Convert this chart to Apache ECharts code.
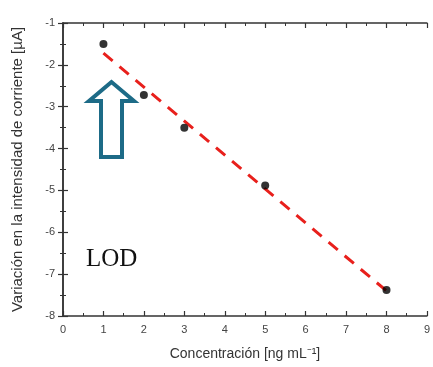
<!DOCTYPE html>
<html><head><meta charset="utf-8">
<script src="https://cdn.jsdelivr.net/npm/echarts@6/dist/echarts.min.js"></script>
<style>html,body{margin:0;padding:0;background:#fff}#c{width:433px;height:367px}</style>
</head><body><div id="c"></div>
<script>
const concentration = [1, 2, 3, 5, 8];
const currentChange = [-1.5, -2.72, -3.5, -4.88, -7.38];
const fitX = [1, 8];
const fitY = [-1.72, -7.40];
const xTicks = [0, 1, 2, 3, 4, 5, 6, 7, 8, 9];
const yTicks = [-8, -7, -6, -5, -4, -3, -2, -1];

const chart = echarts.init(document.getElementById('c'));
const axisCommon = {
  axisLine: {show: true, lineStyle: {color: '#333', width: 1.5}},
  axisTick: {show: true, inside: true, length: 5, lineStyle: {color: '#333', width: 1.2}},
  minorTick: {show: true, splitNumber: 2, length: 3, lineStyle: {color: '#333', width: 1}},
  splitLine: {show: false}
};
chart.setOption({
  animation: false,
  grid: {left: 63, top: 23, right: 3, bottom: 51},
  xAxis: [
    Object.assign({
      type: 'value', min: xTicks[0], max: xTicks[xTicks.length - 1], interval: 1,
      name: 'Concentración [ng mL⁻¹]', nameLocation: 'middle', nameGap: 31,
      nameTextStyle: {fontFamily: 'Liberation Sans', fontSize: 14, color: '#333'},
      axisLabel: {fontFamily: 'Liberation Sans', fontSize: 11, color: '#444', margin: 8}
    }, axisCommon),
    Object.assign({
      type: 'value', position: 'top', min: xTicks[0], max: xTicks[xTicks.length - 1], interval: 1,
      axisLabel: {show: false}
    }, axisCommon)
  ],
  yAxis: [
    Object.assign({
      type: 'value', min: yTicks[0], max: yTicks[yTicks.length - 1], interval: 1,
      name: 'Variación en la intensidad de corriente [µA]', nameLocation: 'middle', nameGap: 38,
      nameTextStyle: {fontFamily: 'Liberation Sans', fontSize: 15, color: '#333'},
      axisLabel: {fontFamily: 'Liberation Sans', fontSize: 11, color: '#444', margin: 8}
    }, axisCommon),
    Object.assign({
      type: 'value', position: 'right', min: yTicks[0], max: yTicks[yTicks.length - 1], interval: 1,
      axisLabel: {show: false}
    }, axisCommon)
  ],
  series: [
    {
      type: 'line', data: fitX.map((x, i) => [x, fitY[i]]), symbol: 'none',
      lineStyle: {color: '#e8201c', width: 3, type: [12, 9]}, z: 2
    },
    {
      type: 'scatter', data: concentration.map((x, i) => [x, currentChange[i]]),
      symbolSize: 8, itemStyle: {color: '#000'}, z: 3
    }
  ],
  graphic: [
    {
      type: 'polygon', z: 10,
      shape: {points: [[111.5, 82], [89, 101], [101, 101], [101, 157], [122, 157], [122, 101], [134, 101]]},
      style: {fill: '#fff', stroke: '#1d6b87', lineWidth: 4, lineJoin: 'miter'}
    },
    {
      type: 'text', z: 10, left: 86, top: 247,
      style: {text: 'LOD', fontFamily: 'Liberation Serif', fontSize: 25, fill: '#111'}
    }
  ]
});
</script></body></html>
